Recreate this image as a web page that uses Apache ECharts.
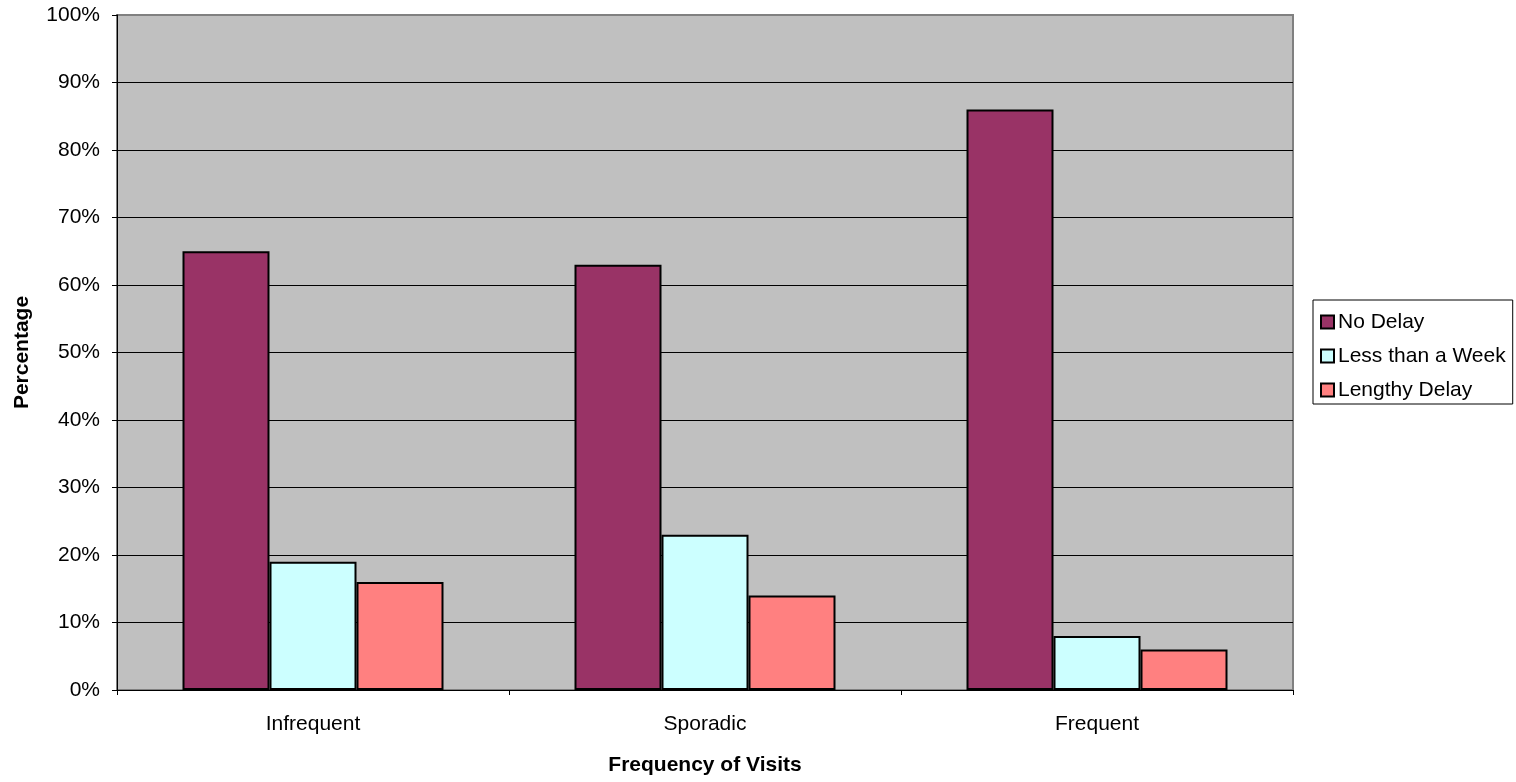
<!DOCTYPE html>
<html>
<head>
<meta charset="utf-8">
<script src="https://cdn.jsdelivr.net/npm/echarts@6/dist/echarts.min.js"></script>
<style>
  html, body { margin: 0; padding: 0; background: #ffffff; }
  #chart { width: 1516px; height: 782px; }
</style>
</head>
<body>
<div id="chart"></div>
<script>
// Visit frequency groups and the share of each delay type (percent)
const categories = ['Infrequent', 'Sporadic', 'Frequent'];
const noDelay = [65, 63, 86];
const lessThanWeek = [19, 23, 8];
const lengthyDelay = [16, 14, 6];
const seriesNames = ['No Delay', 'Less than a Week', 'Lengthy Delay'];
const seriesColors = ['#993366', '#CCFFFF', '#FF8080'];

const font = 'Arial, "Liberation Sans", sans-serif';
const chart = echarts.init(document.getElementById('chart'));

function barSeries(name, data, color) {
  return {
    name: name,
    type: 'bar',
    data: data,
    barWidth: 87,
    barGap: '0%',
    itemStyle: { color: color, borderColor: '#000', borderWidth: 2 },
    emphasis: { disabled: true }
  };
}

chart.setOption({
  animation: false,
  textStyle: { fontFamily: font },
  grid: {
    left: 117, right: 223, top: 15, bottom: 92,
    outerBoundsMode: 'none',
    containLabel: false,
    show: true, backgroundColor: '#C0C0C0', borderColor: '#808080', borderWidth: 2
  },
  legend: {
    orient: 'vertical',
    left: 1313, top: 300,
    itemWidth: 13, itemHeight: 13, itemGap: 10,
    icon: 'rect',
    padding: [10, 7, 2, 7],
    borderColor: '#000', borderWidth: 1,
    backgroundColor: '#fff',
    textStyle: { fontSize: 21, color: '#000', fontFamily: font, lineHeight: 24, padding: [0, 0, 0, -1] },
    data: seriesNames
  },
  xAxis: {
    type: 'category',
    data: categories,
    name: 'Frequency of Visits',
    nameLocation: 'middle',
    nameGap: 65,
    nameTextStyle: { fontSize: 21, fontWeight: 'bold', color: '#000' },
    axisLine: { lineStyle: { color: '#000', width: 1 } },
    axisTick: { show: true, length: 5, lineStyle: { color: '#000' } },
    axisLabel: { fontSize: 21, color: '#000', margin: 24 }
  },
  yAxis: {
    type: 'value',
    min: 0, max: 100, interval: 10,
    name: 'Percentage',
    nameLocation: 'middle',
    nameRotate: 90,
    nameGap: 84,
    nameTextStyle: { fontSize: 21, fontWeight: 'bold', color: '#000' },
    axisLine: { show: true, lineStyle: { color: '#000', width: 1 } },
    axisTick: { show: true, length: 5, lineStyle: { color: '#000' } },
    axisLabel: { fontSize: 21, color: '#000', margin: 17, formatter: '{value}%' },
    splitLine: { show: true, showMaxLine: false, lineStyle: { color: '#000', width: 1 } }
  },
  series: [
    barSeries(seriesNames[0], noDelay, seriesColors[0]),
    barSeries(seriesNames[1], lessThanWeek, seriesColors[1]),
    barSeries(seriesNames[2], lengthyDelay, seriesColors[2])
  ]
});
</script>
</body>
</html>
